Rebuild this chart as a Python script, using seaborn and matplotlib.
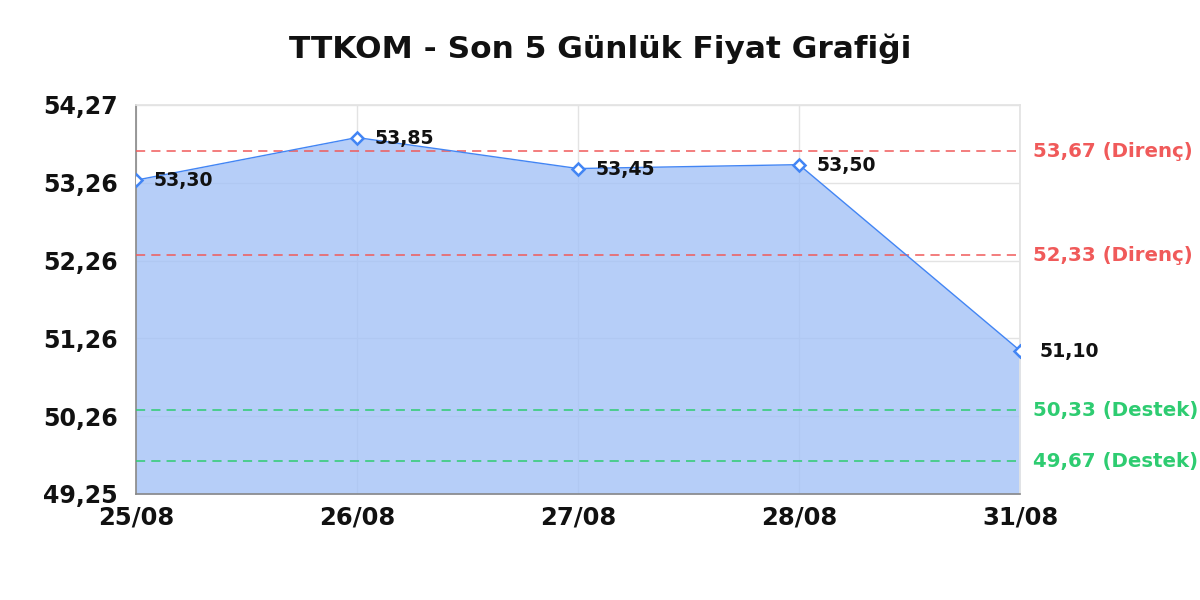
import numpy as np
import pandas as pd
import matplotlib
matplotlib.use("Agg")
import matplotlib.pyplot as plt
import seaborn as sns

# data
dates = ["25/08", "26/08", "27/08", "28/08", "31/08"]
prices = [53.30, 53.85, 53.45, 53.50, 51.10]
resistance = [53.67, 52.33]
support = [50.33, 49.67]
y_min, y_max = 49.25, 54.27
ytick_labels = ["49,25", "50,26", "51,26", "52,26", "53,26", "54,27"]

LINE = "#4285f4"
RED = "#f05a5a"
GREEN = "#2ecc71"


def fmt(v):
    return f"{v:.2f}".replace(".", ",")


sns.set_theme(style="white")
plt.rcParams["font.family"] = ["DejaVu Sans"]

df = pd.DataFrame({"idx": range(len(dates)), "price": prices})

fig = plt.figure(figsize=(12, 6), dpi=100)
ax = fig.add_axes([0.1133, 0.1767, 0.7367, 0.6483])

ax.fill_between(df["idx"], df["price"], y_min, color="#a4c2f7", alpha=0.8, zorder=2, linewidth=0)
sns.lineplot(data=df, x="idx", y="price", ax=ax, color=LINE, linewidth=1.0, zorder=4,
             marker="D", markersize=6.5, markerfacecolor="white", markeredgecolor=LINE,
             markeredgewidth=1.8)

for i, p in enumerate(prices):
    dx = 0.08 if i < len(prices) - 1 else 0.09
    ax.text(i + dx, p - 0.01, fmt(p), fontsize=13.6, fontweight="bold", color="#111111",
            va="center", ha="left", zorder=5)

for r in resistance:
    ax.axhline(r, color=RED, linestyle=(0, (6, 4)), linewidth=1.1, zorder=3)
    ax.text(1.015, r, f"{fmt(r)} (Direnç)", transform=ax.get_yaxis_transform(),
            color=RED, fontsize=14.2, fontweight="bold", va="center", ha="left")
for s in support:
    ax.axhline(s, color=GREEN, linestyle=(0, (6, 4)), linewidth=1.1, zorder=3)
    ax.text(1.015, s, f"{fmt(s)} (Destek)", transform=ax.get_yaxis_transform(),
            color=GREEN, fontsize=14.2, fontweight="bold", va="center", ha="left")

ax.set_xlim(0, len(dates) - 1)
ax.set_ylim(y_min, y_max)
ax.set_xticks(range(len(dates)))
ax.set_xticklabels(dates, fontsize=17.5, fontweight="bold", color="#111111")
ax.set_yticks(np.linspace(y_min, y_max, len(ytick_labels)))
ax.set_yticklabels(ytick_labels, fontsize=17, fontweight="bold", color="#111111")
ax.tick_params(axis="both", length=0)
ax.tick_params(axis="y", pad=13)
ax.tick_params(axis="x", pad=8)
ax.set_xlabel("")
ax.set_ylabel("")

ax.grid(True, color="#e3e3e3", linewidth=1.0, zorder=1)
ax.set_axisbelow(True)
for side in ["top", "right"]:
    ax.spines[side].set_color("#e3e3e3")
for side in ["left", "bottom"]:
    ax.spines[side].set_color("#888888")
    ax.spines[side].set_linewidth(1.2)

fig.suptitle("TTKOM - Son 5 Günlük Fiyat Grafiği", fontsize=22.5, fontweight="bold",
             y=0.945, color="#111111")

fig.savefig("out.png", dpi=100)
